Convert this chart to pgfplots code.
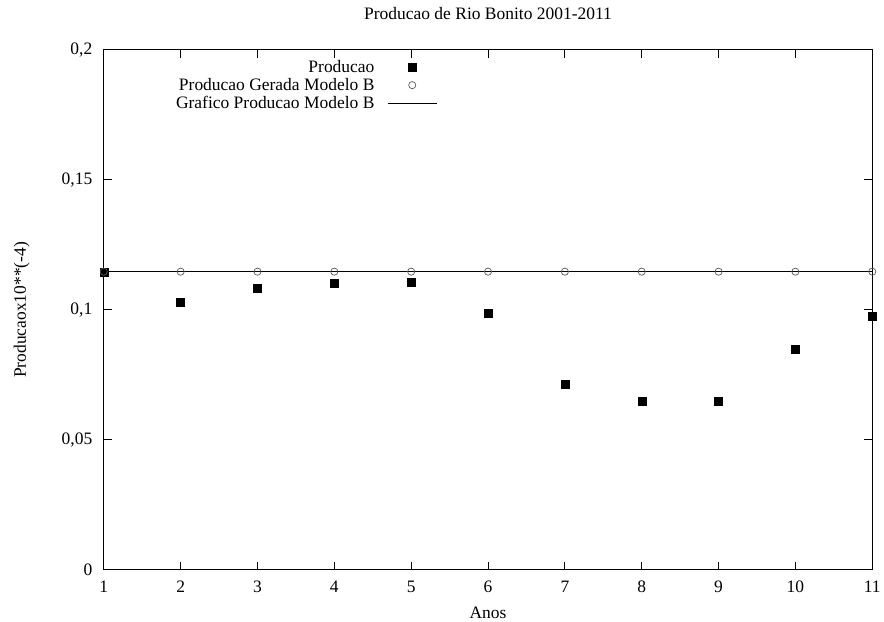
\documentclass[border=0pt]{standalone}
\usepackage{fontspec}
\setmainfont{Liberation Serif}
\usepackage{pgfplots}
\pgfplotsset{compat=1.18}
\pgfplotsset{
 markleg/.style={legend image code/.code={\path (0pt,0pt) (49pt,0pt); \draw[##1,mark repeat=2,mark phase=2] plot coordinates {(0pt,0pt)(24.5pt,0pt)(49pt,0pt)};}},
 lineleg/.style={legend image code/.code={\draw[##1] (0pt,0pt) -- (49pt,0pt);}},
}
\begin{document}
\begin{tikzpicture}
\begin{axis}[
 scale only axis, width=770pt, height=521pt,
 xmin=1, xmax=11, ymin=0, ymax=0.2,
 xtick={1,...,11}, ytick={0,0.05,0.1,0.15,0.2},
 yticklabels={0,{0,05},{0,1},{0,15},{0,2}},
 tick align=inside, major tick length=8pt,
 tick style={black, line width=0.8pt},
 axis line style={line width=0.8pt},
 font=\fontsize{17.5}{20}\selectfont,
 /pgf/number format/assume math mode=true,
 title={Producao de Rio Bonito 2001-2011},
 title style={at={(axis description cs:0.5,1.058)}, anchor=center},
 xlabel={Anos}, ylabel={Producaox10**(-4)},
 xlabel style={at={(axis description cs:0.5,-0.0825)}, anchor=center},
 ylabel style={at={(axis description cs:-0.107,0.5)}, anchor=center},
 xticklabel style={yshift=-8pt},
 yticklabel style={xshift=-8pt},
 clip=false,
 legend style={draw=none, fill=none, inner sep=0pt, at={(axis description cs:0.434,0.984)}, anchor=north east, row sep=0.3pt, column sep=11pt, font=\fontsize{17.5}{20}\selectfont},
 legend cell align=right,
 legend plot pos=right,
]
\addplot[only marks, mark=square*, mark size=4pt, black, markleg]
 coordinates {(1,0.1144)(2,0.1029)(3,0.1083)(4,0.1102)(5,0.1106)(6,0.0987)(7,0.0714)(8,0.0649)(9,0.0649)(10,0.0848)(11,0.0975)};
\addlegendentry{Producao}
\addplot[only marks, mark=o, mark size=3.6pt, black!65, mark options={line width=0.7pt}, markleg]
 coordinates {(1,0.1147)(2,0.1147)(3,0.1147)(4,0.1147)(5,0.1147)(6,0.1147)(7,0.1147)(8,0.1147)(9,0.1147)(10,0.1147)(11,0.1147)};
\addlegendentry{Producao Gerada Modelo B}
\addplot[black, line width=0.8pt, no marks, lineleg]
 coordinates {(1,0.1147)(11,0.1147)};
\addlegendentry{Grafico Producao Modelo B}
\end{axis}
\path ([xshift=-104pt,yshift=-50pt]current axis.south west) rectangle ([xshift=10pt,yshift=50pt]current axis.north east);
\end{tikzpicture}
\end{document}
